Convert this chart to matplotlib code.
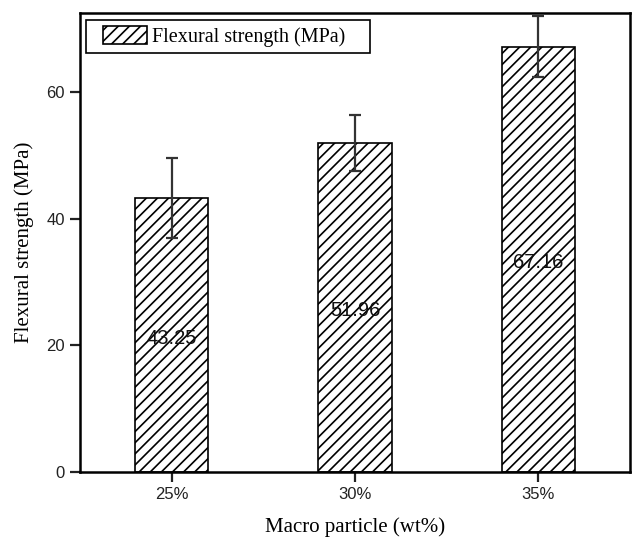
import matplotlib.pyplot as plt
import numpy as np
from matplotlib.container import BarContainer
from matplotlib.legend_handler import HandlerPatch, update_from_first_child

# ---- data ----
categories = ["25%", "30%", "35%"]
strength = [43.25, 51.96, 67.16]
strength_err = [6.3, 4.4, 4.8]

# ---- figure ----
fig = plt.figure(figsize=(6.32, 5.38), dpi=100)
ax = fig.add_axes([0.1266, 0.1227, 0.8702, 0.8531])

plt.rcParams["hatch.linewidth"] = 1.2
x = np.arange(len(categories))
bars = ax.bar(x, strength, width=0.40, color="white", edgecolor="black",
              linewidth=1.2, hatch="///", label="Flexural strength (MPa)",
              zorder=2)
ax.errorbar(x, strength, yerr=strength_err, fmt="none", ecolor="#333333",
            elinewidth=1.6, capsize=4, capthick=1.6, zorder=3)

# value written in the middle of each bar
for xi, v in zip(x, strength):
    ax.text(xi, v / 2 - 0.5, f"{v:.2f}", ha="center", va="center",
            fontsize=14.5, family="Liberation Sans", color="#111111", zorder=4)

ax.set_xlim(-0.5, 2.5)
ax.set_ylim(0, 72.5)
ax.set_xticks(x)
ax.set_xticklabels(categories, family="Liberation Sans", fontsize=12)
ax.set_yticks([0, 20, 40, 60])
ax.set_yticklabels(["0", "20", "40", "60"], family="Liberation Sans", fontsize=12)
ax.tick_params(direction="out", length=7, width=1.6, pad=4, colors="#222222")

for s in ax.spines.values():
    s.set_linewidth(1.8)

ax.set_xlabel("Macro particle (wt%)", family="Liberation Serif", fontsize=15,
              labelpad=11)
ax.set_ylabel("Flexural strength (MPa)", family="Liberation Serif", fontsize=15,
              labelpad=9)

# legend patch pushed a bit right inside its box
bar_handler = HandlerPatch(xpad=0.55, update_func=update_from_first_child)
leg = ax.legend(loc="upper left", bbox_to_anchor=(0.011, 0.0, 0.516, 0.985),
                mode="expand", borderaxespad=0,
                prop={"family": "Liberation Serif", "size": 14.5},
                fancybox=False, edgecolor="black", framealpha=1,
                handlelength=2.75, handleheight=1.0, handletextpad=0.2,
                borderpad=0.3,
                handler_map={BarContainer: bar_handler})
leg.get_frame().set_linewidth(1.2)

fig.savefig("out.png", dpi=100)
